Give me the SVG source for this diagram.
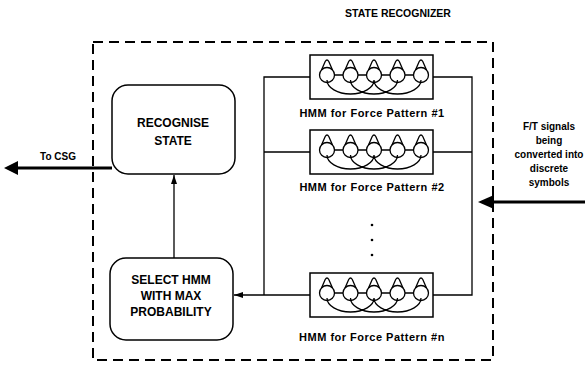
<svg xmlns="http://www.w3.org/2000/svg" width="587" height="369" viewBox="0 0 587 369">
<style>
text{font-family:"Liberation Sans",Arial,sans-serif;font-weight:bold;fill:#000;text-anchor:middle}
.t10{font-size:10px}
.t11{font-size:11px;letter-spacing:0.5px}
.t12{font-size:12px}
.ln{stroke:#000;stroke-width:1.3;fill:none}
.box{stroke:#000;stroke-width:1.5;fill:#fff}
.hmm{stroke:#000;stroke-width:1.3;fill:none}
.thick{stroke:#000;stroke-width:3.2;fill:none}
</style>
<defs>
<marker id="ah" markerWidth="10" markerHeight="8" refX="9" refY="4" orient="auto" markerUnits="userSpaceOnUse">
<path d="M0,1 L9,4 L0,7 Z" fill="#000"/>
</marker>
<path id="loop" class="hmm" d="M-5.5,-5 L-1.8,-13.5 Q0,-16.5 1.8,-13.5 L5.5,-5"/>
<g id="glyph">
<path class="hmm" d="M327,80 A23.5,14 0 0 0 374,80 M350.5,80 A23.5,14 0 0 0 397.5,80 M374,80 A23.5,14 0 0 0 421,80"/>
<circle class="hmm" cx="327" cy="75" r="7.5"/>
<circle class="hmm" cx="350.5" cy="75" r="7.5"/>
<circle class="hmm" cx="374" cy="75" r="7.5"/>
<circle class="hmm" cx="397.5" cy="75" r="7.5"/>
<circle class="hmm" cx="421" cy="75" r="7.5"/>
<path class="hmm" d="M334.5,75 L343,75 M358,75 L366.5,75 M381.5,75 L390,75 M405,75 L413.5,75"/>
<use href="#loop" transform="translate(327,75)"/>
<use href="#loop" transform="translate(350.5,75)"/>
<use href="#loop" transform="translate(374,75)"/>
<use href="#loop" transform="translate(397.5,75)"/>
<use href="#loop" transform="translate(421,75)"/>
</g>
</defs>

<text class="t10" x="398" y="17" style="font-size:10.5px">STATE RECOGNIZER</text>
<rect id="boundary" x="93" y="42" width="400" height="318" fill="none" stroke="#000" stroke-width="2" stroke-dasharray="10,6"/>

<g id="connectors">
<line class="thick" x1="112" y1="168" x2="16" y2="168"/>
<path d="M4,168 L18,161 L18,175 Z" fill="#000"/>
<line class="thick" x1="585" y1="202" x2="492" y2="202"/>
<path d="M478,202 L494,195 L494,209 Z" fill="#000"/>
<line class="ln" x1="174" y1="258" x2="174" y2="175" marker-end="url(#ah)"/>
<line class="ln" x1="310" y1="295" x2="234" y2="295" marker-end="url(#ah)"/>
<path class="ln" d="M310,77 H264 V295 M264,152 H310"/>
<path class="ln" d="M433,77 H472 V295 H433 M433,152 H472"/>
</g>

<g id="recognise">
<rect class="box" x="112" y="85" width="123" height="89" rx="16"/>
<text class="t12" x="173" y="127">RECOGNISE</text>
<text class="t12" x="173" y="145">STATE</text>
</g>

<g id="select">
<rect class="box" x="110" y="258" width="123" height="82" rx="16"/>
<text class="t12" x="171" y="284">SELECT HMM</text>
<text class="t12" x="171" y="300">WITH MAX</text>
<text class="t12" x="171" y="316">PROBABILITY</text>
</g>

<g id="hmm1">
<rect class="box" x="310" y="55" width="123" height="44"/>
<use href="#glyph"/>
<text class="t11" x="372" y="117">HMM for Force Pattern #1</text>
</g>
<g id="hmm2">
<rect class="box" x="310" y="130" width="123" height="44"/>
<use href="#glyph" transform="translate(0,75)"/>
<text class="t11" x="372" y="191">HMM for Force Pattern #2</text>
</g>
<g id="hmmn">
<rect class="box" x="310" y="273" width="123" height="44"/>
<use href="#glyph" transform="translate(0,218)"/>
<text class="t11" x="372" y="341">HMM for Force Pattern #n</text>
</g>

<g id="dots" fill="#000">
<circle cx="372" cy="225" r="1.3"/>
<circle cx="372" cy="240" r="1.3"/>
<circle cx="372" cy="255" r="1.3"/>
</g>

<g id="tocsg"><text class="t10" x="58" y="160">To CSG</text></g>
<g id="ftsignals">
<text class="t10" x="549" y="130">F/T signals</text>
<text class="t10" x="549" y="144">being</text>
<text class="t10" x="549" y="158">converted into</text>
<text class="t10" x="549" y="172">discrete</text>
<text class="t10" x="549" y="186">symbols</text>
</g>
</svg>
